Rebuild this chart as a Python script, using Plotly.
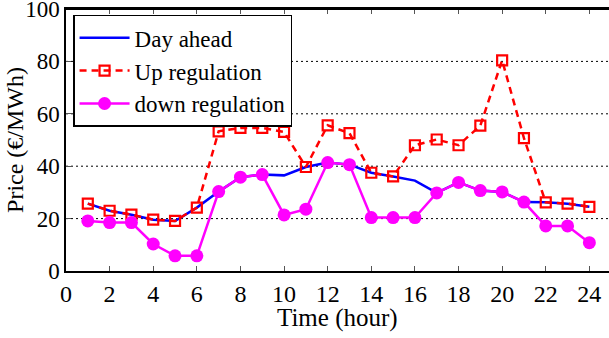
import plotly.graph_objects as go

hours = list(range(1, 25))
day_ahead = [25.7, 23.0, 21.5, 19.6, 19.1, 24.2, 30.3, 35.8, 36.8, 36.5, 39.7, 41.4,
             40.6, 37.5, 36.1, 34.5, 29.8, 33.8, 30.7, 30.2, 26.3, 26.2, 25.7, 24.5]
up_reg = [25.7, 23.0, 21.5, 19.6, 19.1, 24.2, 53.3, 54.6, 54.6, 53.1, 39.7, 55.6,
          52.6, 37.5, 36.1, 48.0, 50.2, 48.0, 55.5, 80.4, 50.7, 26.2, 25.7, 24.5]
down_reg = [19.1, 18.5, 18.5, 10.3, 5.8, 5.8, 30.3, 35.8, 36.8, 21.4, 23.6, 41.4,
            40.6, 20.4, 20.4, 20.4, 29.8, 33.8, 30.7, 30.2, 26.3, 17.2, 17.2, 10.8]
x_ticks = list(range(0, 25, 2))
y_ticks = [0, 20, 40, 60, 80, 100]

FONT = "Liberation Serif"
FS = 23

fig = go.Figure()
fig.add_trace(go.Scatter(x=hours, y=day_ahead, mode="lines", name="Day ahead",
                         line=dict(color="#0000ff", width=2.5)))
fig.add_trace(go.Scatter(x=hours, y=up_reg, mode="lines+markers", name="Up regulation",
                         line=dict(color="#ff0000", width=2.5, dash="7px,5px"),
                         marker=dict(symbol="square-open", size=10, color="#ff0000",
                                     line=dict(width=2.2, color="#ff0000"))))
fig.add_trace(go.Scatter(x=hours, y=down_reg, mode="lines+markers", name="down regulation",
                         line=dict(color="#ff00ff", width=2.5),
                         marker=dict(symbol="circle", size=13, color="#ff00ff")))

fig.update_layout(
    width=609, height=338,
    margin=dict(l=66, r=0, t=9, b=67, autoexpand=False),
    paper_bgcolor="white", plot_bgcolor="white",
    font=dict(family=FONT, size=FS, color="black"),
    showlegend=True,
    legend=dict(x=0.013, y=0.978, xanchor="left", yanchor="top",
                bordercolor="black", borderwidth=1.5, bgcolor="white",
                font=dict(family=FONT, size=23), tracegroupgap=0,
                itemwidth=50),
    xaxis=dict(range=[0, 24.9], tickvals=x_ticks, ticks="inside", ticklen=5,
               tickcolor="#555", showline=True, linecolor="black", linewidth=1.5,
               mirror="ticks", showgrid=False, zeroline=False, automargin=False,
               ticklabeloverflow="allow", tickfont=dict(size=24)),
    yaxis=dict(range=[0, 100], tickvals=y_ticks, ticks="inside", ticklen=5,
               tickcolor="#555", showline=True, linecolor="black", linewidth=1.5,
               mirror=False, showgrid=False, zeroline=False, automargin=False,
               ticklabeloverflow="allow", tickfont=dict(size=FS)),
    annotations=[
        dict(text="Time (hour)", xref="paper", yref="paper", x=0.5, y=-0.178,
             xanchor="center", yanchor="middle", showarrow=False,
             font=dict(family=FONT, size=25)),
        dict(text="Price (€/MWh)", xref="paper", yref="paper", x=-0.094, y=0.5,
             xanchor="center", yanchor="middle", showarrow=False, textangle=-90,
             font=dict(family=FONT, size=24)),
    ],
)
for gy in [20, 40, 60, 80]:
    fig.add_hline(y=gy, line=dict(color="black", width=1, dash="2px,3px"), layer="below")
fig.add_shape(type="line", xref="paper", yref="paper", x0=0, x1=1, y0=1, y1=1,
              line=dict(color="black", width=2))

fig.write_html("out.html", config={"displayModeBar": False},
               post_script="document.body.style.margin='0px';document.body.style.overflow='hidden';")
